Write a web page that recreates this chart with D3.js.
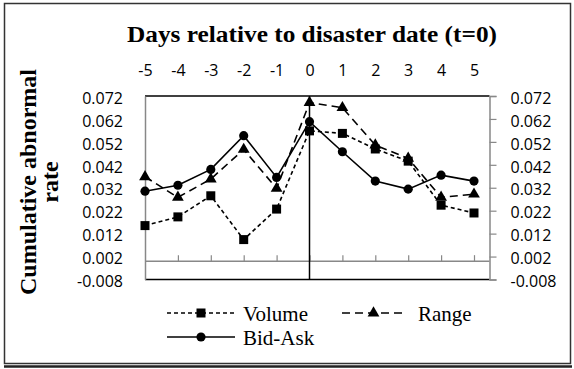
<!DOCTYPE html>
<html>
<head>
<meta charset="utf-8">
<script src="https://cdn.jsdelivr.net/npm/d3@7"></script>
<style>
  html, body { margin: 0; padding: 0; background: #fff; }
  svg { display: block; }
</style>
</head>
<body>
<svg id="chart" width="574" height="369"></svg>
<script>
// Event window (days relative to the disaster date)
const days = [-5, -4, -3, -2, -1, 0, 1, 2, 3, 4, 5];

// Cumulative abnormal rates per measure
const volume = [0.0155, 0.0193, 0.0285, 0.0094, 0.0227, 0.0568, 0.0557, 0.0489, 0.0436, 0.0244, 0.0210];
const range  = [0.0368, 0.0278, 0.0358, 0.0487, 0.0317, 0.0691, 0.0669, 0.0506, 0.0448, 0.0278, 0.0292];
const bidAsk = [0.0305, 0.0331, 0.0400, 0.0547, 0.0365, 0.0608, 0.0477, 0.0349, 0.0314, 0.0375, 0.0349];

// Value-axis ticks
const yTicks = [-0.008, 0.002, 0.012, 0.022, 0.032, 0.042, 0.052, 0.062, 0.072];

const svg = d3.select("#chart");
const serif = "'Liberation Serif', 'Times New Roman', serif";
const sans = "'Open Sans', 'Noto Sans', sans-serif";

// Number formats using a plain hyphen for negatives
const locale = d3.formatLocale({ decimal: ".", thousands: ",", grouping: [3], currency: ["", ""], minus: "-" });
const fmtRate = locale.format(".3f");
const fmtDay = locale.format("d");

// Plot frame
const plotL = 145, plotR = 489.5, plotT = 96, plotB = 279.5;

const x = d3.scaleLinear().domain([-5, 5]).range([145, 474]);
const y = d3.scaleLinear().domain([-0.008, 0.072]).range([plotB, plotT]);

// Outer chart border with bottom shadow
svg.append("rect")
  .attr("x", 4.5).attr("y", 3.5).attr("width", 566).attr("height", 360)
  .attr("fill", "none").attr("stroke", "#333").attr("stroke-width", 1.5);
svg.append("line")
  .attr("x1", 4).attr("x2", 572).attr("y1", 366.5).attr("y2", 366.5)
  .attr("stroke", "#222").attr("stroke-width", 2.5);

// Title
svg.append("text")
  .attr("x", 312).attr("y", 42)
  .attr("text-anchor", "middle")
  .attr("font-family", serif).attr("font-weight", "bold").attr("font-size", 24)
  .attr("textLength", 370).attr("lengthAdjust", "spacingAndGlyphs")
  .text("Days relative to disaster date (t=0)");

// Value-axis title (two lines, rotated)
const yTitle = svg.append("text")
  .attr("transform", "translate(0,182) rotate(-90)")
  .attr("text-anchor", "middle")
  .attr("font-family", serif).attr("font-weight", "bold").attr("font-size", 24);
yTitle.append("tspan").attr("x", 0).attr("y", 36).text("Cumulative abnormal");
yTitle.append("tspan").attr("x", 0).attr("y", 58).text("rate");

// Top and bottom edges of the plot area
svg.append("line").attr("x1", plotL).attr("x2", plotR).attr("y1", plotT).attr("y2", plotT)
  .attr("stroke", "#000").attr("stroke-width", 1.5);
svg.append("line").attr("x1", plotL).attr("x2", plotR).attr("y1", plotB).attr("y2", plotB)
  .attr("stroke", "#000").attr("stroke-width", 1.5);

// Left value axis
const gLeft = svg.append("g").attr("transform", `translate(${plotL},0)`)
  .call(d3.axisLeft(y).tickValues(yTicks).tickSize(0).tickPadding(22).tickFormat(fmtRate));
// Right value axis
const gRight = svg.append("g").attr("transform", `translate(${plotR},0)`)
  .call(d3.axisRight(y).tickValues(yTicks).tickSize(7).tickPadding(14).tickFormat(fmtRate));
[gLeft, gRight].forEach(g => {
  g.select(".domain").attr("stroke", "#888").attr("stroke-width", 1.5);
  g.selectAll(".tick line").attr("stroke", "#888").attr("stroke-width", 1.2);
  g.selectAll(".tick text").attr("font-family", sans).attr("font-size", 16).attr("fill", "#000").attr("dy", "0.45em");
});

// Category axis line at zero with upward tick marks
svg.append("line").attr("x1", plotL).attr("x2", plotR).attr("y1", y(0)).attr("y2", y(0))
  .attr("stroke", "#888").attr("stroke-width", 1.5);
const gTicks = svg.append("g").attr("transform", `translate(0,${y(0)})`)
  .call(d3.axisTop(x).tickValues(days.slice(1)).tickSize(6).tickFormat(""));
gTicks.select(".domain").remove();
gTicks.selectAll(".tick line").attr("stroke", "#888").attr("stroke-width", 1.2);

// Category labels along the top
const gTop = svg.append("g").attr("transform", "translate(0,76)")
  .call(d3.axisTop(x).tickValues(days).tickSize(0).tickPadding(0).tickFormat(fmtDay));
gTop.select(".domain").remove();
gTop.selectAll(".tick text").attr("font-family", sans).attr("font-size", 16).attr("fill", "#000").attr("dy", "0");

// Vertical line at t = 0
svg.append("line").attr("x1", x(0)).attr("x2", x(0)).attr("y1", plotT).attr("y2", plotB)
  .attr("stroke", "#000").attr("stroke-width", 1.5);

// Series
const series = [
  { name: "Volume", values: volume, dash: "4,3", marker: "square" },
  { name: "Range", values: range, dash: "8,5", marker: "triangle" },
  { name: "Bid-Ask", values: bidAsk, dash: null, marker: "circle" }
];

const line = d3.line().x((d, i) => x(days[i])).y(d => y(d));
const symbolFor = {
  square: d3.symbol().type(d3.symbolSquare).size(81),
  triangle: d3.symbol().type(d3.symbolTriangle).size(60),
  circle: d3.symbol().type(d3.symbolCircle).size(66)
};

series.forEach(s => {
  svg.append("path")
    .attr("d", line(s.values))
    .attr("fill", "none").attr("stroke", "#000").attr("stroke-width", 1.6)
    .attr("stroke-dasharray", s.dash);
  svg.append("g").selectAll("path")
    .data(s.values).join("path")
    .attr("transform", (d, i) => `translate(${x(days[i])},${y(d)})`)
    .attr("d", symbolFor[s.marker]())
    .attr("fill", "#000");
});

// Legend
const legendItems = [
  { s: series[0], x0: 167, x1: 235, y: 313, tx: 243 },
  { s: series[1], x0: 342, x1: 405, y: 313, tx: 418 },
  { s: series[2], x0: 167, x1: 235, y: 337, tx: 243 }
];
legendItems.forEach(it => {
  svg.append("line").attr("x1", it.x0).attr("x2", it.x1).attr("y1", it.y).attr("y2", it.y)
    .attr("stroke", "#000").attr("stroke-width", 1.6).attr("stroke-dasharray", it.s.dash);
  svg.append("path")
    .attr("transform", `translate(${(it.x0 + it.x1) / 2},${it.y})`)
    .attr("d", symbolFor[it.s.marker]())
    .attr("fill", "#000");
  svg.append("text").attr("x", it.tx).attr("y", it.y + 8)
    .attr("font-family", serif).attr("font-size", 21).text(it.s.name);
});
</script>
</body>
</html>
